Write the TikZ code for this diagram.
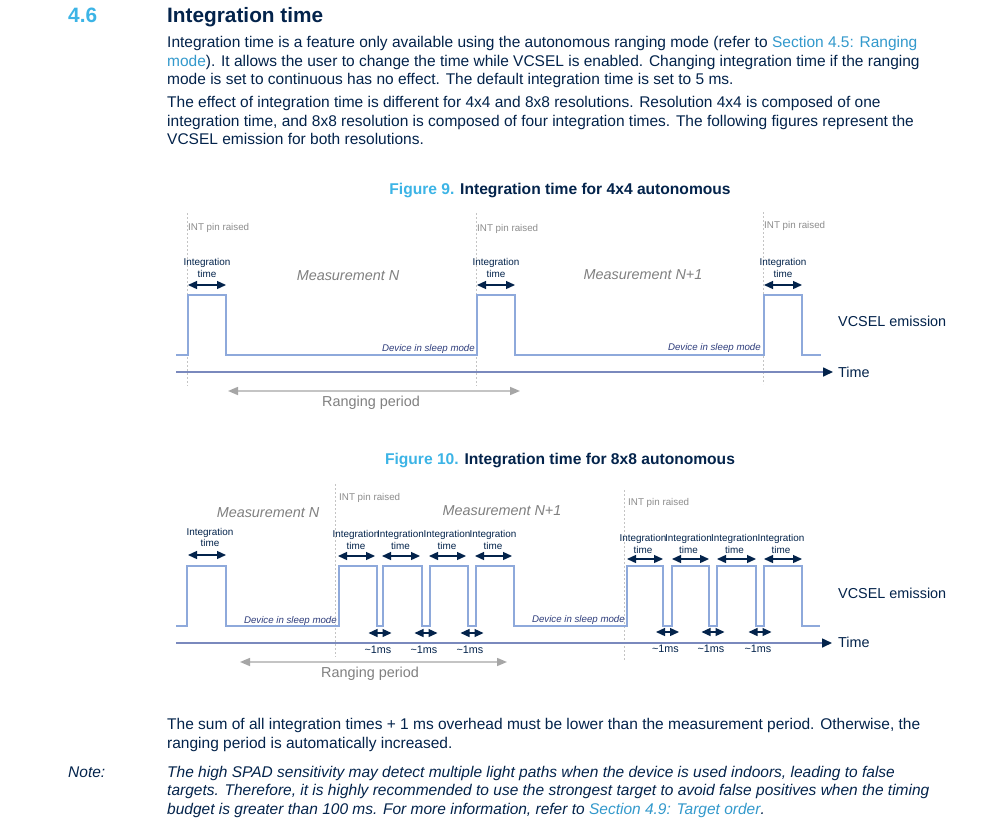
\documentclass[tikz,border=0pt]{standalone}
\usepackage{fontspec}
\setmainfont{Liberation Sans}
\usetikzlibrary{arrows.meta}
\definecolor{navy}{HTML}{03234B}
\definecolor{tautan}{HTML}{3399CC}
\definecolor{stbiru}{HTML}{3CB4E6}
\definecolor{pulsa}{HTML}{8EA9DB}
\definecolor{sumbu}{HTML}{7A89BD}
\definecolor{abu}{HTML}{808080}
\definecolor{garis}{HTML}{C4C4C4}
\definecolor{tidurbiru}{HTML}{2E3D7C}
\begin{document}
\begin{tikzpicture}[x=1pt, y=-1pt,
    teks/.style={anchor=base west, inner sep=0pt, text=navy, font=\fontsize{15.5}{18.5}\selectfont},
    catatan/.style={teks, font=\fontsize{15.5}{18.5}\selectfont\itshape},
    judul/.style={anchor=base west, inner sep=0pt, font=\fontsize{20.8}{24}\selectfont\bfseries},
    keterangan/.style={anchor=base, inner sep=0pt, text=navy, font=\fontsize{15.6}{18}\selectfont\bfseries},
    integ/.style={inner sep=0pt, align=center, text=navy, font=\fontsize{9.9}{11.5}\selectfont},
    intpin/.style={anchor=west, inner sep=0pt, text=abu!90, font=\fontsize{9.8}{12}\selectfont},
    ukur/.style={inner sep=0pt, text=abu, font=\fontsize{14.4}{18}\selectfont\itshape},
    tidur/.style={anchor=east, inner sep=0pt, text=tidurbiru, font=\fontsize{9.7}{11}\selectfont\itshape},
    besar/.style={anchor=west, inner sep=0pt, text=navy, font=\fontsize{14.4}{18}\selectfont},
    periode/.style={inner sep=0pt, text=abu, font=\fontsize{14.4}{18}\selectfont},
    satums/.style={inner sep=0pt, text=navy, font=\fontsize{10.8}{12}\selectfont},
    gelombang/.style={pulsa, line width=1.1pt},
    waktu/.style={sumbu, line width=1.6pt, -{Triangle[length=10pt,width=9pt,color=navy]}},
    dua/.style={navy, line width=1.3pt, {Triangle[length=9pt,width=8pt]}-{Triangle[length=9pt,width=8pt]}},
    rentang/.style={garis, line width=1.5pt, {Triangle[length=10pt,width=8pt,color=abu!70]}-{Triangle[length=10pt,width=8pt,color=abu!70]}},
    putus/.style={garis, line width=0.6pt, dash pattern=on 2pt off 2pt}]
  \useasboundingbox[fill=white] (0,0) rectangle (999,825);

  % heading and text above the figures
  \node[judul, text=stbiru] (nomor) at (68,22.5) {4.6};
  \node[judul, text=navy] (bab) at (167,22.5) {Integration time};
  \node[teks] (p1) at (167,47.5) {Integration time is a feature only available using the autonomous ranging mode (refer to \textcolor{tautan}{Section 4.5: Ranging}};
  \node[teks] (p2) at (167,66) {\textcolor{tautan}{mode}). It allows the user to change the time while VCSEL is enabled. Changing integration time if the ranging};
  \node[teks] (p3) at (167,84.5) {mode is set to continuous has no effect. The default integration time is set to 5 ms.};
  \node[teks] (p4) at (167,107) {The effect of integration time is different for 4x4 and 8x8 resolutions. Resolution 4x4 is composed of one};
  \node[teks] (p5) at (167,126) {integration time, and 8x8 resolution is composed of four integration times. The following figures represent the};
  \node[teks] (p6) at (167,144) {VCSEL emission for both resolutions.};

  % figure 9
  \node[keterangan] (fig9) at (560,194.5) {\textcolor{stbiru}{Figure 9.} Integration time for 4x4 autonomous};
  \draw[putus] (187,213) -- (187,386);
  \draw[putus] (476,213) -- (476,386);
  \draw[putus] (763,212) -- (763,384);
  \node[intpin] (int1) at (188,228) {INT pin raised};
  \node[intpin] (int2) at (477,229) {INT pin raised};
  \node[intpin] (int3) at (764,226) {INT pin raised};
  \foreach \a/\b/\n in {188/226/1, 477/515/2, 764/802/3} {
    \node[integ] (lab\n) at ({(\a+\b)/2},268) {Integration\\time};
    \coordinate (ia\n) at (\a,285);
    \coordinate (ib\n) at (\b,285);
    \draw[dua] (ia\n) -- (ib\n);
  }
  \draw[gelombang] (176,355) -- (188,355) -- (188,295) -- (226,295) -- (226,355)
    -- (477,355) -- (477,295) -- (515,295) -- (515,355)
    -- (764,355) -- (764,295) -- (802,295) -- (802,355) -- (821,355);
  \node[ukur] (ukurN) at (348,276) {Measurement N};
  \node[ukur] (ukurN1) at (643,275) {Measurement N+1};
  \node[tidur] (tidur1) at (475,349) {Device in sleep mode};
  \node[tidur] (tidur2) at (761,348) {Device in sleep mode};
  \node[besar] (vcsel1) at (838,321) {VCSEL emission};
  \coordinate (awal1) at (176,372);
  \coordinate (akhir1) at (833,372);
  \draw[waktu] (awal1) -- (akhir1);
  \node[besar] (time1) at (838,372) {Time};
  \coordinate (r1a) at (228,391);
  \coordinate (r1b) at (520,391);
  \draw[rentang] (r1a) -- (r1b);
  \node[periode] (rp1) at (371,403) {Ranging period};

  % figure 10
  \node[keterangan] (fig10) at (560,464.5) {\textcolor{stbiru}{Figure 10.} Integration time for 8x8 autonomous};
  \draw[putus] (335,484) -- (335,657);
  \draw[putus] (624,490) -- (624,660);
  \node[intpin] (int4) at (339,498) {INT pin raised};
  \node[intpin] (int5) at (628,503) {INT pin raised};
  \node[integ] (lab4) at (210,537.5) {Integration\\time};
  \coordinate (ia4) at (188,555);
  \coordinate (ib4) at (226,555);
  \draw[dua] (ia4) -- (ib4);
  \foreach \a/\b/\n in {339/377/5, 383/422/6, 430/468/7, 476/514/8} {
    \node[integ] (lab\n) at ({(\a+\b)/2-2},540) {Integration\\time};
    \coordinate (ia\n) at (\a-1,556);
    \coordinate (ib\n) at (\b-2,556);
    \draw[dua] (ia\n) -- (ib\n);
  }
  \foreach \a/\b/\n in {627/663/9, 672/709/10, 717/756/11, 764/802/12} {
    \node[integ] (lab\n) at ({(\a+\b)/2-2},544) {Integration\\time};
    \coordinate (ia\n) at (\a,559);
    \coordinate (ib\n) at (\b,559);
    \draw[dua] (ia\n) -- (ib\n);
  }
  \foreach \c/\y/\n in {380/633/1, 426/633/2, 472/633/3, 667.5/632/4, 713/632/5, 760/632/6} {
    \coordinate (ma\n) at (\c-11.5,\y);
    \coordinate (mb\n) at (\c+11.5,\y);
    \draw[dua] (ma\n) -- (mb\n);
    \node[satums] (ms\n) at (\c-2,\y+17) {\textasciitilde 1ms};
  }
  \draw[gelombang] (176,626) -- (187,626) -- (187,566) -- (226,566) -- (226,626)
    -- (339,626) -- (339,566) -- (377,566) -- (377,626)
    -- (383,626) -- (383,566) -- (422,566) -- (422,626)
    -- (430,626) -- (430,566) -- (468,566) -- (468,626)
    -- (476,626) -- (476,566) -- (514,566) -- (514,626)
    -- (627,626) -- (627,566) -- (663,566) -- (663,626)
    -- (672,626) -- (672,566) -- (709,566) -- (709,626)
    -- (717,626) -- (717,566) -- (756,566) -- (756,626)
    -- (764,626) -- (764,566) -- (802,566) -- (802,626) -- (820,626);
  \node[ukur] (ukurM) at (268,513) {Measurement N};
  \node[ukur] (ukurM1) at (502,511) {Measurement N+1};
  \node[tidur] (tidur3) at (337,621) {Device in sleep mode};
  \node[tidur] (tidur4) at (625,620) {Device in sleep mode};
  \node[besar] (vcsel2) at (838,593) {VCSEL emission};
  \coordinate (awal2) at (176,643);
  \coordinate (akhir2) at (832,643);
  \draw[waktu] (awal2) -- (akhir2);
  \node[besar] (time2) at (838,642) {Time};
  \coordinate (r2a) at (240,662);
  \coordinate (r2b) at (507,662);
  \draw[rentang] (r2a) -- (r2b);
  \node[periode] (rp2) at (370,674) {Ranging period};

  % text below the figures
  \node[teks] (q1) at (167,729) {The sum of all integration times + 1 ms overhead must be lower than the measurement period. Otherwise, the};
  \node[teks] (q2) at (167,748) {ranging period is automatically increased.};
  \node[catatan] (note) at (68,777) {Note:};
  \node[catatan] (n1) at (167,777) {The high SPAD sensitivity may detect multiple light paths when the device is used indoors, leading to false};
  \node[catatan] (n2) at (167,795) {targets. Therefore, it is highly recommended to use the strongest target to avoid false positives when the timing};
  \node[catatan] (n3) at (167,814) {budget is greater than 100 ms. For more information, refer to \textcolor{tautan}{Section 4.9: Target order}.};
\end{tikzpicture}
\end{document}
